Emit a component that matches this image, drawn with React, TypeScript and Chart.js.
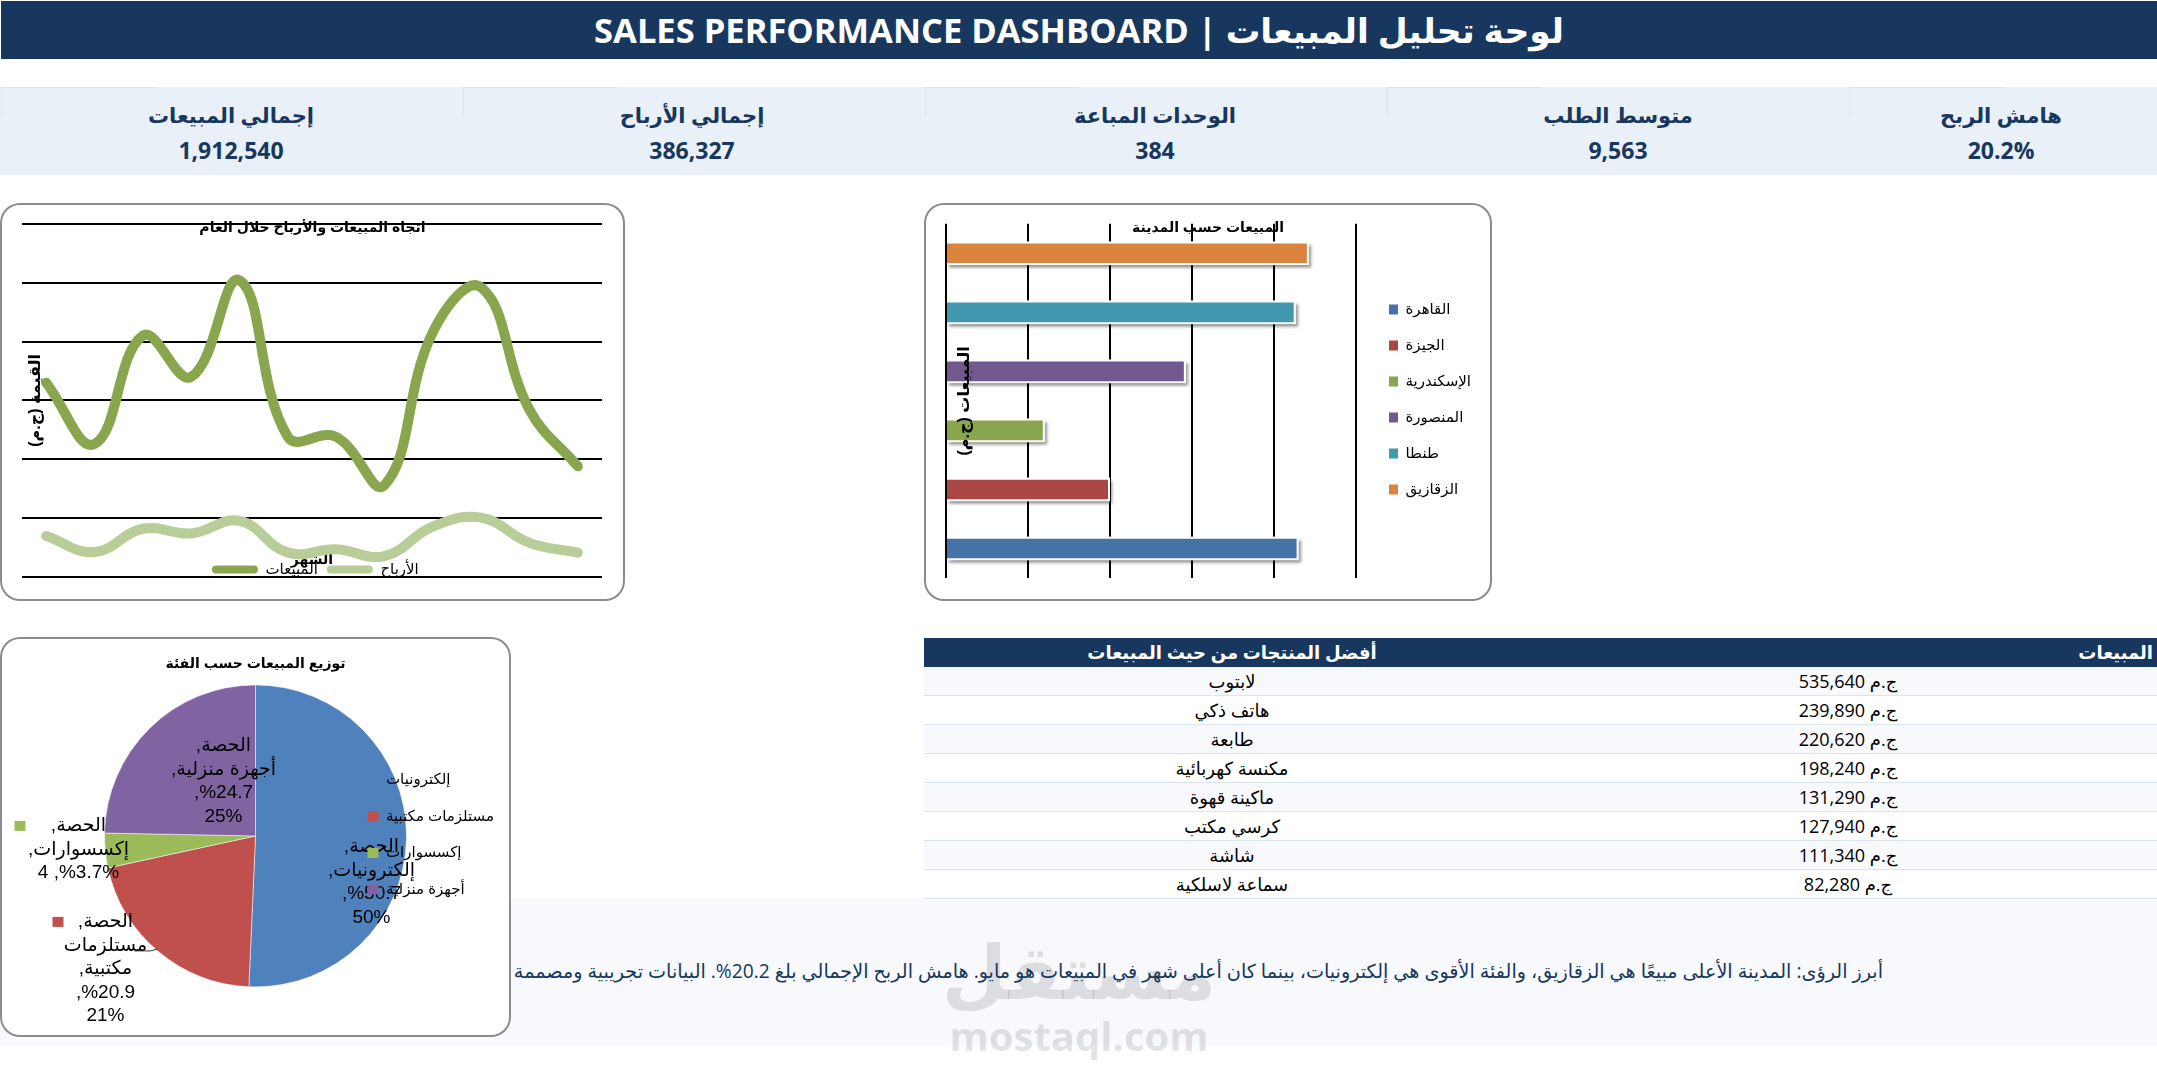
import { useEffect, useRef } from 'react';
import Chart from 'chart.js/auto';

const pageFont = '"Open Sans", "DejaVu Sans", sans-serif';
const chartFont = '"Liberation Sans", "DejaVu Sans", sans-serif';
const navy = '#17375E';

const months = ['يناير', 'فبراير', 'مارس', 'أبريل', 'مايو', 'يونيو', 'يوليو', 'أغسطس', 'سبتمبر', 'أكتوبر', 'نوفمبر', 'ديسمبر'];
const salesValues = [165000, 113000, 205000, 170000, 252000, 119000, 119000, 78000, 208000, 246000, 142000, 94000];
const profitValues = [34800, 21200, 41000, 37000, 47600, 20700, 23500, 17800, 42800, 50400, 29000, 20700];

const cities = ['القاهرة', 'الجيزة', 'الإسكندرية', 'المنصورة', 'طنطا', 'الزقازيق'];
const citySales = [430000, 200000, 120500, 292500, 426500, 442500];
const cityColors = ['#4572A7', '#AA4643', '#89A54E', '#71588F', '#4198AF', '#DB843D'];

const categories = ['إلكترونيات', 'مستلزمات مكتبية', 'إكسسوارات', 'أجهزة منزلية'];
const categoryShares = [50.7, 20.9, 3.7, 24.7];
const categoryColors = ['#4F81BD', '#C0504D', '#9BBB59', '#8064A2'];
const pieLabelLines = [
  ['الحصة,', 'إلكترونيات,', '%50.7,', '50%'],
  ['الحصة,', 'مستلزمات', 'مكتبية,', '%20.9,', '21%'],
  ['الحصة,', 'إكسسوارات,', '%3.7%, 4'],
  ['الحصة,', 'أجهزة منزلية,', '%24.7,', '25%'],
];
// label anchors relative to the pie centre, key square relative to the label
const pieLabelOffsets = [[116, 11], [-150, 86], [-177, -10], [-32, -90]];
const pieKeyOffsets = [null, -53, -64, null];

const kpiLabels = ['إجمالي المبيعات', 'إجمالي الأرباح', 'الوحدات المباعة', 'متوسط الطلب', 'هامش الربح'];
const kpiValues = ['1,912,540', '386,327', '384', '9,563', '20.2%'];
const kpiCenters = [231, 692, 1155, 1618, 2001];

const products = ['لابتوب', 'هاتف ذكي', 'طابعة', 'مكنسة كهربائية', 'ماكينة قهوة', 'كرسي مكتب', 'شاشة', 'سماعة لاسلكية'];
const productSales = ['535,640', '239,890', '220,620', '198,240', '131,290', '127,940', '111,340', '82,280'];

const insightText = 'أبرز الرؤى: المدينة الأعلى مبيعًا هي الزقازيق، والفئة الأقوى هي إلكترونيات، بينما كان أعلى شهر في المبيعات هو مايو. هامش الربح الإجمالي بلغ 20.2%. البيانات تجريبية ومصممة لأغراض العرض فقط';

// moves the native title and legend onto the spots the spreadsheet put them
const placeBoxes = {
  id: 'placeBoxes',
  beforeLayout(chart: any, _args: any, opts: any) {
    // the legend sits on top of the slices in the reference
    const legend = chart.legend;
    if (legend && opts.legendOnTop) {
      legend._layers = () => [{ z: 1, draw: (area: any) => legend.draw(area) }];
    }
  },
  afterLayout(chart: any, _args: any, opts: any) {
    const title = chart.titleBlock;
    if (title && opts.titleTop != null) {
      const h = title.bottom - title.top;
      title.top = opts.titleTop;
      title.bottom = opts.titleTop + h;
      title.left = 0;
      title.right = chart.width;
    }
    const legend = chart.legend;
    if (legend && opts.legendLeft != null) {
      const w = legend.right - legend.left;
      const h = legend.bottom - legend.top;
      legend.left = opts.legendLeft;
      legend.right = opts.legendLeft + w;
      legend.top = opts.legendTop;
      legend.bottom = opts.legendTop + h;
    }
  },
};

const barShadow = {
  id: 'barShadow',
  beforeDatasetsDraw(chart: any) {
    const { ctx } = chart;
    ctx.save();
    ctx.shadowColor = 'rgba(0,0,0,0.45)';
    ctx.shadowBlur = 3;
    ctx.shadowOffsetX = 2;
    ctx.shadowOffsetY = 3;
    ctx.fillStyle = '#fff';
    chart.getDatasetMeta(0).data.forEach((bar: any) => {
      ctx.fillRect(bar.base, bar.y - bar.height / 2, bar.x - bar.base, bar.height);
    });
    ctx.restore();
  },
};

const pieLabels = {
  id: 'pieLabels',
  afterDatasetsDraw(chart: any) {
    const { ctx } = chart;
    const first = chart.getDatasetMeta(0).data[0];
    ctx.save();
    ctx.font = '19px ' + chartFont;
    ctx.fillStyle = '#000';
    ctx.textAlign = 'center';
    ctx.textBaseline = 'middle';
    pieLabelLines.forEach((lines, i) => {
      const lx = first.x + pieLabelOffsets[i][0];
      const ly = first.y + pieLabelOffsets[i][1];
      lines.forEach((line, j) => ctx.fillText(line, lx, ly + j * 23.5));
      const key = pieKeyOffsets[i];
      if (key != null) {
        ctx.fillStyle = categoryColors[i];
        ctx.fillRect(lx + key, ly - 5, 11, 10);
        ctx.fillStyle = '#000';
      }
    });
    // leader line of the office supplies label
    const red = pieLabelOffsets[1];
    ctx.strokeStyle = '#333';
    ctx.lineWidth = 1;
    ctx.beginPath();
    ctx.moveTo(first.x + red[0] + 29, first.y + red[1] + 29);
    ctx.lineTo(first.x + red[0] + 45, first.y + red[1] + 29);
    ctx.lineTo(first.x + red[0] + 52, first.y + red[1] + 27);
    ctx.stroke();
    ctx.restore();
  },
};

const lineConfig = (): any => ({
  type: 'line',
  data: {
    labels: months,
    datasets: [
      { label: 'المبيعات', data: salesValues, borderColor: '#89A54E', backgroundColor: '#89A54E' },
      { label: 'الأرباح', data: profitValues, borderColor: '#B8CD97', backgroundColor: '#B8CD97' },
    ],
  },
  plugins: [placeBoxes],
  options: {
    responsive: false,
    animation: false,
    events: [],
    layout: { padding: { left: 22, right: 23, top: 0, bottom: -10 } },
    elements: {
      point: { radius: 0 },
      line: { borderWidth: 10, tension: 0.42, borderCapStyle: 'round', borderJoinStyle: 'round' },
    },
    scales: {
      x: {
        offset: true,
        afterFit: (s: any) => { s.height = 0; },
        grid: { display: false },
        border: { display: false },
        ticks: { display: false },
        title: { display: true, text: 'الشهر', color: '#000', font: { size: 14, weight: 'bold' }, padding: { top: 0, bottom: 8 } },
      },
      y: {
        min: 0,
        max: 300000,
        afterFit: (s: any) => { s.width = 0; },
        grid: { color: '#000', lineWidth: 2, drawTicks: false },
        border: { display: false },
        ticks: { display: false, stepSize: 50000 },
        title: { display: true, text: 'القيمة (ج.م)', color: '#000', font: { size: 16, weight: 'bold' }, padding: { top: 4, bottom: 0 } },
      },
    },
    plugins: {
      tooltip: { enabled: false },
      title: { display: true, text: 'اتجاه المبيعات والأرباح خلال العام', color: '#000', font: { size: 14, weight: 'bold' }, padding: 2 },
      legend: {
        position: 'bottom',
        align: 'start',
        labels: {
          color: '#000',
          font: { size: 15 },
          boxWidth: 46,
          boxHeight: 8,
          padding: 9,
          useBorderRadius: true,
          borderRadius: 4,
          generateLabels: (chart: any) => chart.data.datasets.map((d: any, i: number) => ({
            text: d.label, fillStyle: d.borderColor, strokeStyle: d.borderColor, lineWidth: 0, borderRadius: 4, datasetIndex: i,
          })),
        },
      },
      placeBoxes: { titleTop: 15, legendLeft: 203, legendTop: 350 },
    },
  },
});

const barConfig = (): any => ({
  type: 'bar',
  data: {
    labels: cities,
    datasets: [{ label: 'المبيعات', data: citySales, backgroundColor: cityColors, borderColor: '#fff', borderWidth: 2, categoryPercentage: 1, barPercentage: 0.4 }],
  },
  plugins: [placeBoxes, barShadow],
  options: {
    indexAxis: 'y',
    responsive: false,
    animation: false,
    events: [],
    layout: { padding: { left: 22, right: 136, top: 0, bottom: 23 } },
    scales: {
      x: {
        min: 0,
        max: 500000,
        afterFit: (s: any) => { s.height = 0; },
        grid: { color: '#000', lineWidth: 2, drawTicks: false },
        border: { display: false },
        ticks: { display: false, stepSize: 100000 },
      },
      y: {
        reverse: true,
        afterFit: (s: any) => { s.width = 0; },
        grid: { display: false, z: 1 },
        border: { display: false },
        ticks: { display: false },
        title: { display: true, text: 'المبيعات (ج.م)', color: '#000', font: { size: 16, weight: 'bold' }, padding: { top: 9, bottom: 0 } },
      },
    },
    plugins: {
      tooltip: { enabled: false },
      title: { display: true, text: 'المبيعات حسب المدينة', color: '#000', font: { size: 14, weight: 'bold' }, padding: 2 },
      legend: {
        position: 'chartArea',
        align: 'start',
        labels: {
          color: '#000',
          font: { size: 15 },
          boxWidth: 9,
          boxHeight: 10,
          padding: 21,
          generateLabels: () => cities.map((c, i) => ({ text: c, fillStyle: cityColors[i], strokeStyle: cityColors[i], lineWidth: 0, index: i })),
        },
      },
      placeBoxes: { titleTop: 15, legendLeft: 444, legendTop: 78 },
    },
  },
});

const pieConfig = (): any => ({
  type: 'pie',
  data: {
    labels: categories,
    datasets: [{ data: categoryShares, backgroundColor: categoryColors, borderColor: 'rgba(255,255,255,0.5)', borderWidth: 1 }],
  },
  plugins: [placeBoxes, pieLabels],
  options: {
    responsive: false,
    animation: false,
    events: [],
    layout: { padding: { left: 104, right: 104, top: 26, bottom: 49 } },
    plugins: {
      tooltip: { enabled: false },
      title: { display: true, text: 'توزيع المبيعات حسب الفئة', color: '#000', font: { size: 14, weight: 'bold' }, padding: 2 },
      legend: {
        position: 'chartArea',
        align: 'start',
        labels: {
          color: '#000',
          font: { size: 15 },
          boxWidth: 11,
          boxHeight: 10,
          padding: 21.5,
          generateLabels: () => categories.map((c, i) => ({ text: c, fillStyle: categoryColors[i], strokeStyle: categoryColors[i], lineWidth: 0, index: i })),
        },
      },
      placeBoxes: { titleTop: 17, legendLeft: 346, legendTop: 114, legendOnTop: true },
    },
  },
});

function ChartBox({ left, top, width, height, config }: any) {
  const canvasRef = useRef<HTMLCanvasElement>(null);

  useEffect(() => {
    const chart = new Chart(canvasRef.current as HTMLCanvasElement, config());
    return () => chart.destroy();
  }, [config]);

  return (
    <div style={{ position: 'absolute', left, top, width, height, background: '#fff', borderRadius: 20, boxShadow: 'inset 0 0 0 2px #8c8c8c' }}>
      <canvas ref={canvasRef} width={width} height={height} style={{ display: 'block', direction: 'rtl' }} />
    </div>
  );
}

export default function App() {
  Chart.defaults.font.family = chartFont;

  return (
    <div dir="ltr" style={{ position: 'absolute', left: 0, top: 0, width: 2157, height: 1074, overflow: 'hidden', background: '#fff', fontFamily: pageFont }}>
      <style>{'body{margin:0}'}</style>

      <div style={{ position: 'absolute', left: 1, top: 1, width: 2156, height: 58, background: navy, color: '#fff', fontSize: 34.5, fontWeight: 700, lineHeight: '58px', textAlign: 'center', whiteSpace: 'nowrap' }}>
        SALES PERFORMANCE DASHBOARD | لوحة تحليل المبيعات
      </div>

      <div style={{ position: 'absolute', left: 0, top: 87, width: 2157, height: 88, background: '#E9F0F7' }} />
      {kpiLabels.map((label, i) => (
        <div key={label}>
          <div style={{ position: 'absolute', left: i * 462 + 1, top: 87, width: 154, height: 1, background: '#D9E2F0' }} />
          <div style={{ position: 'absolute', left: i * 462 + 1, top: 87, width: 1, height: 30, background: '#D9E2F0' }} />
          <div dir="rtl" style={{ position: 'absolute', left: kpiCenters[i] - 200, top: 100, width: 400, textAlign: 'center', color: navy, fontSize: 21, fontWeight: 600, lineHeight: '30px' }}>{label}</div>
          <div style={{ position: 'absolute', left: kpiCenters[i] - 200, top: 135, width: 400, textAlign: 'center', color: navy, fontSize: 23, fontWeight: 700, lineHeight: '30px' }}>{kpiValues[i]}</div>
        </div>
      ))}

      <div style={{ position: 'absolute', left: 0, top: 899, width: 2157, height: 146, background: '#F7F9FD' }} />
      <div dir="rtl" style={{ position: 'absolute', left: 929, top: 920, width: 300, textAlign: 'center', color: 'rgba(110,110,110,0.2)', fontSize: 75, fontWeight: 700, lineHeight: '100px' }}>مستقل</div>
      <div style={{ position: 'absolute', left: 929, top: 1006, width: 300, textAlign: 'center', color: 'rgba(110,110,110,0.2)', fontSize: 40, fontWeight: 700, lineHeight: '60px' }}>mostaql.com</div>
      <div dir="rtl" style={{ position: 'absolute', left: 283, top: 956, width: 1600, color: navy, fontSize: 19.2, lineHeight: '30px', whiteSpace: 'nowrap', overflow: 'hidden' }}>{insightText}</div>

      <div style={{ position: 'absolute', left: 924, top: 638, width: 1233, height: 29, background: navy, color: '#fff', fontSize: 18, fontWeight: 700, lineHeight: '29px' }}>
        <div dir="rtl" style={{ position: 'absolute', left: 0, width: 616, textAlign: 'center' }}>أفضل المنتجات من حيث المبيعات</div>
        <div dir="rtl" style={{ position: 'absolute', right: 4, textAlign: 'right' }}>المبيعات</div>
      </div>
      {products.map((name, i) => (
        <div key={name} style={{ position: 'absolute', left: 924, top: 667 + i * 29, width: 1233, height: 28, borderBottom: '1px solid #DCE6F1', background: i % 2 === 0 ? '#F7F9FC' : '#fff', color: '#000', fontSize: 18, lineHeight: '28px' }}>
          <div dir="rtl" style={{ position: 'absolute', left: 0, width: 616, textAlign: 'center' }}>{name}</div>
          <div dir="rtl" style={{ position: 'absolute', left: 616, width: 616, textAlign: 'center' }}>ج.م {productSales[i]}</div>
        </div>
      ))}

      <ChartBox left={0} top={203} width={625} height={398} config={lineConfig} />
      <ChartBox left={924} top={203} width={568} height={398} config={barConfig} />
      <ChartBox left={0} top={637} width={511} height={400} config={pieConfig} />
    </div>
  );
}
